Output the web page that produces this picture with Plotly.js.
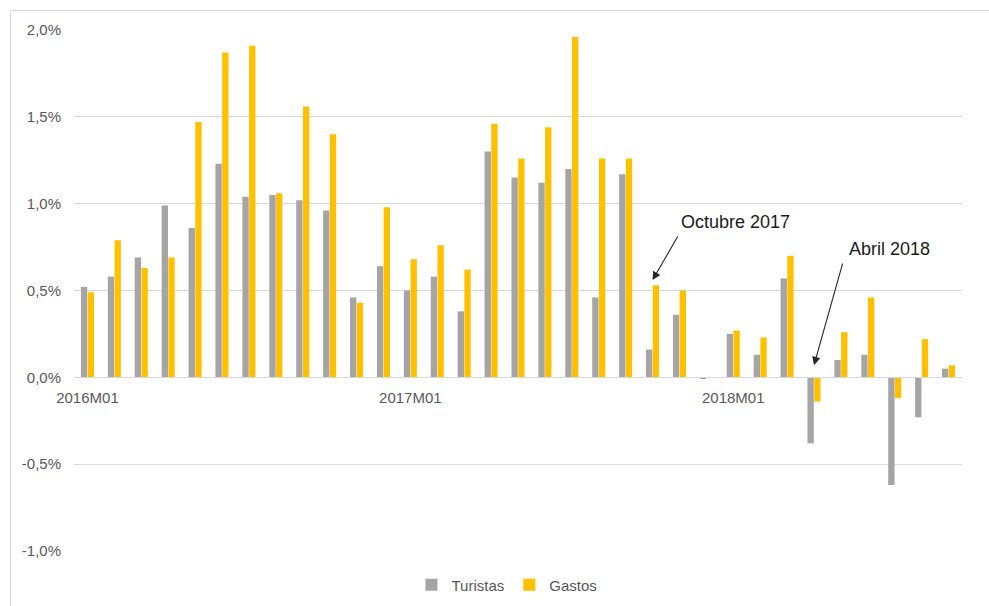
<!DOCTYPE html>
<html>
<head>
<meta charset="utf-8">
<script src="https://cdn.plot.ly/plotly-3.0.1.min.js"></script>
<style>
  html, body { margin: 0; padding: 0; background: #ffffff; overflow: hidden; }
  #wrap { position: relative; width: 989px; height: 606px; overflow: hidden; }
  #chart { position: absolute; left: 0; top: 0; width: 989px; height: 606px; }
  #frame { position: absolute; left: 10px; top: 10px; width: 1000px; height: 620px;
           border: 1px solid #d9d9d9; pointer-events: none; }
</style>
</head>
<body>
<div id="wrap">
  <div id="chart"></div>
  <div id="frame"></div>
</div>
<script>
// Months (categories)
const months = [
  '2016M01','2016M02','2016M03','2016M04','2016M05','2016M06','2016M07','2016M08','2016M09','2016M10','2016M11','2016M12',
  '2017M01','2017M02','2017M03','2017M04','2017M05','2017M06','2017M07','2017M08','2017M09','2017M10','2017M11','2017M12',
  '2018M01','2018M02','2018M03','2018M04','2018M05','2018M06','2018M07','2018M08','2018M09'
];

// Series values (%)
const turistas = [
  0.52, 0.58, 0.69, 0.99, 0.86, 1.23, 1.04, 1.05, 1.02, 0.96, 0.46, 0.64,
  0.50, 0.58, 0.38, 1.30, 1.15, 1.12, 1.20, 0.46, 1.17, 0.16, 0.36, -0.01,
  0.25, 0.13, 0.57, -0.38, 0.10, 0.13, -0.62, -0.23, 0.05
];
const gastos = [
  0.49, 0.79, 0.63, 0.69, 1.47, 1.87, 1.91, 1.06, 1.56, 1.40, 0.43, 0.98,
  0.68, 0.76, 0.62, 1.46, 1.26, 1.44, 1.96, 1.26, 1.26, 0.53, 0.50, 0.00,
  0.27, 0.23, 0.70, -0.14, 0.26, 0.46, -0.12, 0.22, 0.07
];

// Axis tick labels
const xTickVals = ['2016M01', '2017M01', '2018M01'];
const yTickVals = [-1.0, -0.5, 0.0, 0.5, 1.0, 1.5, 2.0];
const yTickText = ['-1,0%', '-0,5%', '0,0%', '0,5%', '1,0%', '1,5%', '2,0%'];

// Annotation labels
const noteOct = 'Octubre 2017';
const noteAbr = 'Abril 2018';

const FONT = 'Liberation Sans, Arial, sans-serif';
const TXT = '#595959';

const traces = [
  {
    type: 'bar', name: 'Turistas', x: months, y: turistas,
    marker: { color: '#A5A5A5', line: { width: 0 } }
  },
  {
    type: 'bar', name: 'Gastos', x: months, y: gastos,
    marker: { color: '#FFC000', line: { width: 0 } }
  }
];

const layout = {
  width: 989, height: 606,
  margin: { l: 74, r: 27, t: 30, b: 55, pad: 0, autoexpand: false },
  paper_bgcolor: 'rgba(0,0,0,0)',
  plot_bgcolor: '#ffffff',
  font: { family: FONT, size: 15, color: TXT },
  barmode: 'group',
  bargap: 0.5,
  bargroupgap: 0.06,
  showlegend: true,
  legend: {
    orientation: 'h', x: 0.4876, xanchor: 'center',
    yref: 'container', y: 0.0347, yanchor: 'middle',
    font: { family: FONT, size: 15, color: TXT },
    itemwidth: 30, traceorder: 'normal'
  },
  xaxis: {
    type: 'category',
    categoryorder: 'array', categoryarray: months,
    tickmode: 'array', tickvals: xTickVals, ticktext: xTickVals,
    anchor: 'free', position: 1/3,
    showgrid: false, zeroline: false,
    showline: true, linecolor: '#d9d9d9', linewidth: 1,
    ticks: '', ticklabelstandoff: 7,
    tickfont: { family: FONT, size: 15, color: TXT },
    range: [-0.5, months.length - 0.5],
    automargin: false,
    fixedrange: true
  },
  yaxis: {
    range: [-1.0, 2.0],
    tickmode: 'array', tickvals: yTickVals, ticktext: yTickText,
    showgrid: true, gridcolor: '#d9d9d9', gridwidth: 1,
    zeroline: false, showline: false,
    ticks: '', ticklabelstandoff: 12,
    tickfont: { family: FONT, size: 15, color: TXT },
    automargin: false,
    fixedrange: true
  },
  annotations: [
    { x: 24.1, y: 0.894, xref: 'x', yref: 'y', text: noteOct, showarrow: false,
      font: { family: FONT, size: 18, color: '#1a1a1a' }, xanchor: 'center', yanchor: 'middle' },
    { x: 29.82, y: 0.738, xref: 'x', yref: 'y', text: noteAbr, showarrow: false,
      font: { family: FONT, size: 18, color: '#1a1a1a' }, xanchor: 'center', yanchor: 'middle' },
    { x: 21, y: 0.56, xref: 'x', yref: 'y', text: '', showarrow: true,
      ax: 26, ay: -45, arrowhead: 2, arrowsize: 1.5, arrowwidth: 1.1, arrowcolor: '#262626' },
    { x: 27, y: 0.07, xref: 'x', yref: 'y', text: '', showarrow: true,
      ax: 29, ay: -103, arrowhead: 2, arrowsize: 1.5, arrowwidth: 1.1, arrowcolor: '#262626' }
  ]
};

Plotly.newPlot('chart', traces, layout, { displayModeBar: false, staticPlot: true });
</script>
</body>
</html>
